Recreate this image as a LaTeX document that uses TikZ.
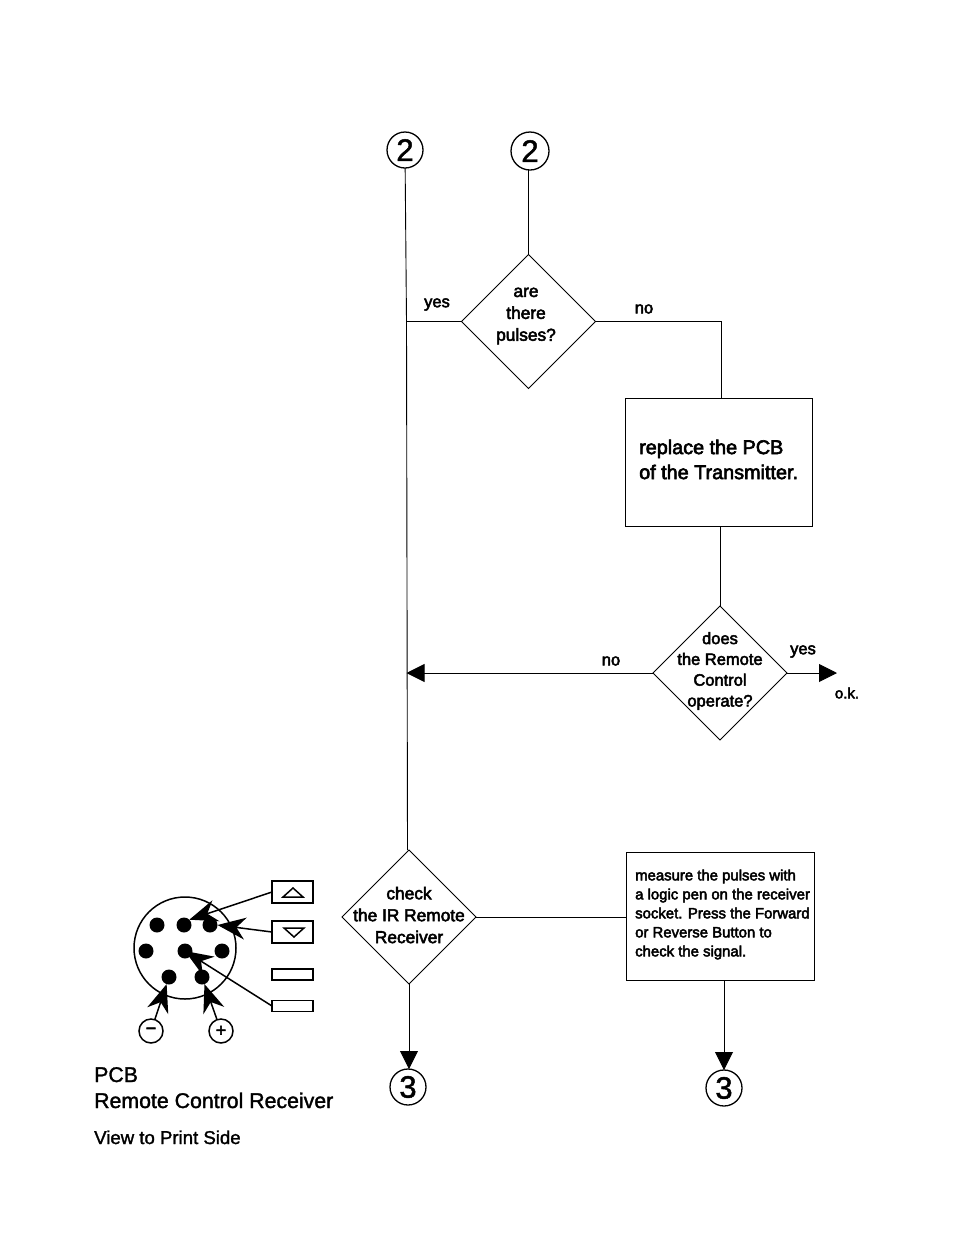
\documentclass[tikz,border=0pt]{standalone}
\usepackage{fontspec}
\setmainfont{Liberation Sans}
\newfontfamily\heavy[FakeBold=3]{Liberation Sans}
\newfontfamily\midweight[FakeBold=1.5]{Liberation Sans}
\usetikzlibrary{shapes.geometric,arrows.meta}
\tikzset{
  flow/.style={line width=0.9pt,draw=black},
  dia/.style={diamond,draw=black,line width=0.9pt,minimum width=134pt,minimum height=134pt,inner sep=0pt,outer sep=0pt,aspect=1},
  dtext/.style={align=center,inner sep=0pt,font=\heavy\fontsize{17.3}{21.9}\selectfont},
  tag/.style={inner sep=0pt,font=\heavy\fontsize{16.5}{18}\selectfont},
  conn/.style={circle,draw=black,line width=1.3pt,minimum size=36pt,inner sep=0pt,outer sep=0pt,font=\midweight\fontsize{31}{31}\selectfont},
  boxa/.style={rectangle,draw=black,line width=0.9pt,inner sep=0pt,outer sep=0pt},
  tip/.style={-{Triangle[length=18pt,width=18pt]},flow},
  pin/.style={circle,fill=black,minimum size=15pt,inner sep=0pt,outer sep=0pt},
  key/.style={rectangle,draw=black,line width=1.5pt,inner sep=0pt,outer sep=0pt,minimum width=41pt},
  wire/.style={line width=1.5pt,-{Stealth[length=28pt,width=22pt,inset=9pt]}},
  pole/.style={circle,draw=black,line width=1.5pt,minimum size=24pt,inner sep=0pt,outer sep=0pt,font=\heavy\fontsize{18}{18}\selectfont},
  caption/.style={anchor=base west,inner sep=0pt}
}
\begin{document}
\begin{tikzpicture}[x=1pt,y=-1pt]
\useasboundingbox (0,0) rectangle (954,1235);
\fill[white] (0,0) rectangle (954,1235);

% connectors circles
\node[conn] (c1) at (405,150) {2};
\node[conn,minimum size=38pt] (c2) at (530,151) {2};
\node[conn] (c3) at (408,1087) {3};
\node[conn] (c4) at (724,1088) {3};

% decisions
\node[dia] (d1) at (528.5,321.5) {};
\node[dtext] (t1) at (526,316) {are\\there\\pulses?};
\node[dia] (d2) at (720,673) {};
\node[dtext,font=\heavy\fontsize{16.5}{20.8}\selectfont] (t2) at (720,671) {does\\the Remote\\Control\\operate?};
\node[dtext] (t3) at (409,915) {check\\the IR Remote\\Receiver};
\node[dia] (d3) at (409,917) {};

% boxes
\node[boxa,minimum width=187pt,minimum height=128pt] (b1) at (718.5,462) {};
\node[anchor=west,align=left,inner sep=0pt,font=\heavy\fontsize{19.8}{25}\selectfont] (t4) at (639,459.5) {replace the PCB\\of the Transmitter.};
\node[boxa,minimum width=188pt,minimum height=128pt] (b2) at (720,916) {};
\node[anchor=west,align=left,inner sep=0pt,font=\heavy\fontsize{14.9}{19}\selectfont] (t5) at (635,914.5) {measure the pulses with\\a logic pen on the receiver\\socket. Press the Forward\\or Reverse Button to\\check the signal.};

% flow
\coordinate (j1) at (406.5,321.5);
\coordinate (j2) at (406.5,673);
\coordinate (e1) at (721,321.5);
\coordinate (ok) at (837,673);
\draw[flow] (c1) -- (j1) -- (407.5,850);
\draw[flow] (c2.south -| d1.north) -- (d1.north);
\draw[flow] (d1.west) -- (j1);
\draw[flow] (d1.east) -- (e1) -- (e1 |- b1.north);
\draw[flow] (d2.north |- b1.south) -- (d2.north);
\draw[tip] (d2.west) -- (j2);
\draw[tip] (d2.east) -- (ok);
\draw[flow] (d3.east) -- (d3.east -| b2.west);
\draw[tip] (d3.south) -- (c3.north -| d3.south);
\draw[tip] (c4.north |- b2.south) -- (c4.north);

% labels
\node[tag] (y1) at (437,304.5) {yes};
\node[tag] (n1) at (644,309) {no};
\node[tag] (n2) at (611,661) {no};
\node[tag] (y2) at (803,651.5) {yes};
\node[tag,font=\heavy\fontsize{15}{18}\selectfont] (o1) at (847,693) {o.k.};

% socket
\node[circle,draw=black,line width=1.5pt,minimum size=102pt,inner sep=0pt] (s) at (185,948) {};
\node[pin] (p1) at (157,925) {};
\node[pin] (p2) at (184,925) {};
\node[pin] (p3) at (210,925) {};
\node[pin] (p4) at (146,951) {};
\node[pin] (p5) at (185,951) {};
\node[pin] (p6) at (222,951) {};
\node[pin] (p7) at (169,977) {};
\node[pin] (p8) at (202,977) {};

\node[key,minimum height=22pt] (k1) at (292.5,892) {};
\node[key,minimum height=22pt] (k2) at (292.5,932) {};
\node[key,minimum height=11pt] (k3) at (292.5,974.5) {};
\node[key,minimum height=11pt] (k4) at (292.5,1006) {};
\draw[line width=1.5pt,line join=miter] (283,897) -- (303,897) -- (293,888) -- cycle;
\draw[line width=1.5pt,line join=miter] (284,928) -- (304,928) -- (294,937) -- cycle;

\node[pole] (m) at (151,1031) {−};
\node[pole] (q) at (221,1031) {+};

\draw[wire] (k1.west) -- (p2.north east);
\draw[wire] (k2.west) -- (p3.east);
\draw[wire] (k4.west) -- (p5.center);
\draw[wire] (m) -- (p7);
\draw[wire] (q) -- (p8);

% captions
\node[caption,font=\midweight\fontsize{21.3}{26}\selectfont] (l1) at (94,1082) {PCB};
\node[caption,font=\midweight\fontsize{21.3}{26}\selectfont] (l2) at (94,1108) {Remote Control Receiver};
\node[caption,font=\midweight\fontsize{18.6}{22}\selectfont] (l3) at (94,1144) {View to Print Side};
\end{tikzpicture}
\end{document}
